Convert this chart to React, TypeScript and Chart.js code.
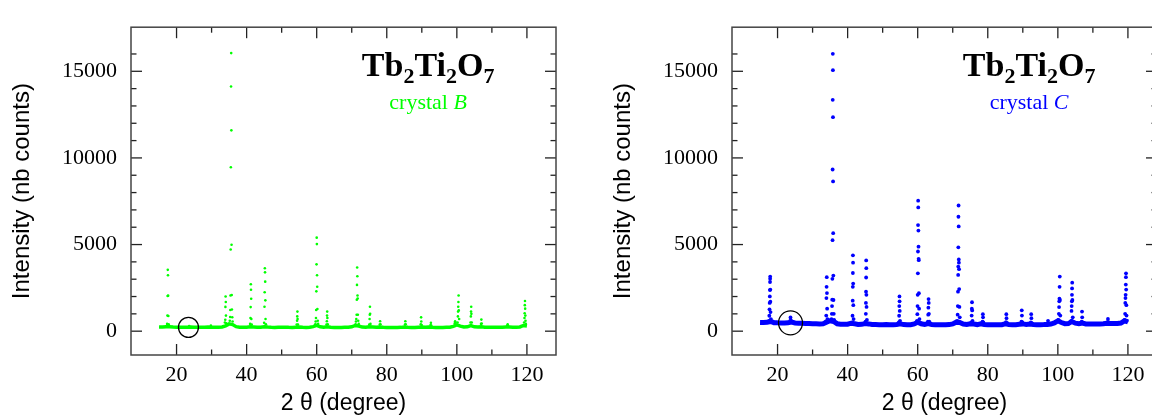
import React, { useEffect, useRef } from "react";
import { Chart, registerables } from "chart.js";

Chart.register(...registerables);

type Pt = [number, number];

const X_RANGE: [number, number] = [7, 128.3];
const Y_RANGE: [number, number] = [-1375, 17545];
const X_MAJOR = [20, 40, 60, 80, 100, 120];
const X_MINOR = [30, 50, 70, 90, 110];
const Y_MAJOR = [0, 5000, 10000, 15000];
const Y_MINOR = [1000, 2000, 3000, 4000, 6000, 7000, 8000, 9000, 11000, 12000, 13000, 14000, 16000];

const X_TITLE = "2 θ (degree)";
const Y_TITLE = "Intensity (nb counts)";
const COMPOUND: [string, boolean][] = [["Tb", false], ["2", true], ["Ti", false], ["2", true], ["O", false], ["7", true]];
const CRYSTAL_WORD = "crystal ";

// crystal B (green) — background band
const bandB: Pt[] = [
  [15, 240], [16, 235], [17, 250], [18, 260], [19, 235], [20, 230], [21, 228], [22, 230], [23, 232], [24, 235],
  [25, 230], [26, 226], [27, 225], [28, 228], [29, 235], [30, 230], [31, 225], [32, 225], [33, 240], [34, 300],
  [35, 420], [36, 380], [37, 260], [38, 230], [39, 225], [40, 228], [41, 250], [42, 240], [43, 222], [44, 225],
  [45, 260], [46, 235], [47, 220], [48, 218], [49, 220], [50, 222], [51, 230], [52, 220], [53, 218], [54, 230],
  [55, 235], [56, 220], [57, 216], [58, 222], [59, 260], [60, 330], [61, 250], [62, 225], [63, 250], [64, 225],
  [65, 215], [66, 215], [67, 218], [68, 220], [69, 225], [70, 250], [71, 330], [72, 300], [73, 235], [74, 225],
  [75, 260], [76, 240], [77, 222], [78, 240], [79, 222], [80, 215], [81, 214], [82, 215], [83, 216], [84, 220],
  [85, 245], [86, 222], [87, 215], [88, 218], [89, 230], [90, 240], [91, 220], [92, 240], [93, 222], [94, 215],
  [95, 215], [96, 218], [97, 222], [98, 230], [99, 280], [100, 360], [101, 290], [102, 240], [103, 250], [104, 320],
  [105, 250], [106, 240], [107, 260], [108, 230], [109, 222], [110, 220], [111, 222], [112, 222], [113, 225], [114, 235],
  [115, 240], [116, 230], [117, 232], [118, 245], [119, 330], [120, 300],
];

// crystal B (green) — peak points
const peaksB: Pt[] = [
  [17.3, 420], [17.4, 900], [17.45, 2030], [17.5, 3540], [17.55, 3230], [17.6, 2050], [17.65, 880], [17.75, 400],
  [23.6, 300], [29.8, 320],
  [33.8, 500], [33.9, 660], [33.95, 1400], [34.0, 2000], [34.05, 1680], [34.1, 900], [34.2, 450],
  [35.2, 600], [35.3, 820], [35.35, 1220], [35.4, 2060], [35.45, 4710], [35.5, 9460], [35.55, 14120], [35.6, 16050],
  [35.65, 11590], [35.7, 4990], [35.75, 2090], [35.8, 1250], [35.9, 800], [36.0, 560],
  [41.0, 420], [41.1, 760], [41.15, 1390], [41.2, 2710], [41.25, 2390], [41.3, 1870], [41.35, 700], [41.45, 380],
  [45.0, 480], [45.1, 1410], [45.15, 2245], [45.2, 3636], [45.25, 3395], [45.3, 2860], [45.35, 1780], [45.4, 700], [45.5, 400],
  [54.3, 380], [54.4, 600], [54.45, 853], [54.5, 1131], [54.55, 700], [54.65, 380],
  [59.6, 400], [59.7, 560], [59.8, 760], [59.85, 1224], [59.9, 2300], [59.95, 3858], [60.0, 5398], [60.05, 5027],
  [60.1, 3228], [60.15, 2560], [60.2, 1280], [60.3, 600], [60.4, 420],
  [62.8, 380], [62.9, 575], [62.95, 900], [63.0, 1131], [63.05, 760], [63.15, 400],
  [71.1, 400], [71.2, 560], [71.3, 700], [71.4, 946], [71.45, 1818], [71.5, 2671], [71.55, 3673], [71.6, 3172],
  [71.65, 2059], [71.7, 1883], [71.75, 950], [71.85, 600], [72.0, 420],
  [75.0, 380], [75.1, 700], [75.15, 946], [75.2, 1410], [75.25, 1000], [75.35, 420],
  [78.0, 380], [78.1, 575], [78.2, 400],
  [85.2, 380], [85.3, 575], [85.4, 400],
  [89.7, 400], [89.8, 798], [89.85, 560], [89.95, 350],
  [92.5, 350], [92.6, 482], [92.7, 330],
  [99.4, 450], [99.5, 575], [99.6, 500],
  [100.2, 500], [100.3, 853], [100.35, 1131], [100.4, 1410], [100.45, 1688], [100.5, 2059], [100.55, 1200], [100.65, 700],
  [103.9, 500], [104.0, 853], [104.05, 1131], [104.1, 1410], [104.15, 1000], [104.25, 500],
  [106.9, 420], [107.0, 668], [107.1, 440],
  [114.4, 330], [114.5, 390], [114.6, 320],
  [119.2, 500], [119.3, 760], [119.35, 1039], [119.4, 1503], [119.45, 1744], [119.5, 1300], [119.55, 900], [119.6, 600], [119.7, 420],
];

// crystal C (blue) — background band
const bandC: Pt[] = [
  [15, 500], [16, 495], [17, 510], [18, 560], [19, 490], [20, 480], [21, 478], [22, 475], [23, 480], [24, 520],
  [25, 470], [26, 462], [27, 455], [28, 448], [29, 440], [30, 432], [31, 425], [32, 420], [33, 430], [34, 520],
  [35, 600], [36, 560], [37, 430], [38, 405], [39, 398], [40, 400], [41, 460], [42, 430], [43, 392], [44, 395],
  [45, 440], [46, 420], [47, 385], [48, 380], [49, 378], [50, 378], [51, 385], [52, 375], [53, 372], [54, 390],
  [55, 420], [56, 380], [57, 370], [58, 375], [59, 420], [60, 520], [61, 430], [62, 390], [63, 440], [64, 390],
  [65, 368], [66, 366], [67, 368], [68, 370], [69, 380], [70, 420], [71, 520], [72, 500], [73, 410], [74, 385],
  [75, 430], [76, 410], [77, 380], [78, 420], [79, 385], [80, 368], [81, 365], [82, 365], [83, 366], [84, 372],
  [85, 420], [86, 385], [87, 370], [88, 375], [89, 400], [90, 420], [91, 385], [92, 415], [93, 385], [94, 375],
  [95, 376], [96, 380], [97, 390], [98, 410], [99, 480], [100, 600], [101, 500], [102, 430], [103, 440], [104, 560],
  [105, 460], [106, 430], [107, 470], [108, 420], [109, 410], [110, 412], [111, 415], [112, 420], [113, 425], [114, 460],
  [115, 450], [116, 440], [117, 445], [118, 470], [119, 600], [120, 540],
];

// crystal C (blue) — peak points
const peaksC: Pt[] = [
  [17.55, 600], [17.65, 890], [17.7, 1261], [17.75, 1632], [17.8, 2003], [17.82, 2375], [17.85, 2838], [17.88, 3024],
  [17.9, 3154], [17.93, 2400], [17.95, 1700], [18.0, 1100], [18.1, 700],
  [23.6, 600], [23.7, 796], [23.8, 620],
  [33.8, 560], [33.9, 900], [33.95, 1911], [34.0, 2560], [34.05, 3116], [34.1, 2200], [34.15, 1300], [34.25, 700],
  [35.4, 700], [35.5, 1000], [35.55, 1447], [35.6, 1818], [35.65, 3024], [35.7, 5250], [35.72, 9331], [35.75, 13356],
  [35.78, 16009], [35.8, 15063], [35.82, 12354], [35.85, 8644], [35.88, 5658], [35.92, 3209], [35.97, 1800], [36.05, 1000], [36.15, 650],
  [41.3, 500], [41.4, 890], [41.45, 1762], [41.48, 2560], [41.5, 3358], [41.52, 4378], [41.55, 3951], [41.58, 2745], [41.62, 1500], [41.7, 700],
  [45.1, 550], [45.2, 1000], [45.22, 1632], [45.25, 2282], [45.28, 3098], [45.3, 4081], [45.33, 3636], [45.36, 2096], [45.4, 1400], [45.5, 650],
  [54.6, 500], [54.7, 890], [54.75, 1447], [54.8, 2003], [54.83, 1725], [54.87, 1169], [54.95, 600],
  [59.8, 600], [59.9, 983], [59.95, 1447], [60.0, 2096], [60.05, 3339], [60.08, 4600], [60.1, 6122], [60.13, 7531],
  [60.16, 7142], [60.2, 5806], [60.23, 4879], [60.26, 4174], [60.3, 4100], [60.34, 2189], [60.4, 1300], [60.5, 700],
  [62.9, 550], [63.0, 950], [63.05, 1354], [63.1, 1855], [63.15, 1632], [63.2, 1000], [63.3, 550],
  [71.3, 600], [71.4, 950], [71.45, 1447], [71.5, 2282], [71.55, 3246], [71.58, 3729], [71.6, 4842], [71.63, 6604],
  [71.66, 7253], [71.7, 6047], [71.73, 4137], [71.76, 3951], [71.8, 3580], [71.84, 2430], [71.9, 1400], [72.0, 800],
  [75.3, 500], [75.4, 900], [75.45, 1300], [75.5, 1670], [75.55, 1200], [75.65, 600],
  [78.5, 550], [78.6, 983], [78.65, 800], [78.75, 500],
  [85.2, 520], [85.3, 983], [85.35, 750], [85.45, 480],
  [89.6, 550], [89.7, 1206], [89.75, 900], [89.85, 520],
  [92.3, 500], [92.4, 983], [92.45, 750], [92.55, 470],
  [97.2, 600],
  [100.2, 650], [100.3, 1000], [100.35, 1391], [100.4, 1725], [100.45, 1874], [100.5, 2560], [100.55, 3154], [100.6, 1800], [100.7, 900],
  [103.8, 600], [103.9, 1169], [103.95, 1447], [104.0, 1725], [104.03, 2096], [104.06, 2467], [104.1, 2801], [104.15, 1800], [104.25, 800],
  [106.8, 550], [106.9, 1131], [106.95, 800], [107.05, 500],
  [114.2, 520], [114.3, 705], [114.4, 520],
  [119.1, 650], [119.2, 1000], [119.25, 1632], [119.3, 1911], [119.35, 2096], [119.4, 2690], [119.43, 3116], [119.46, 3339],
  [119.5, 2400], [119.55, 1500], [119.6, 900], [119.7, 600],
];

const circleB: Pt = [23.4, 220];
const circleC: Pt = [23.7, 480];

// text anchors (data units)
const LABEL_X = 91.8;
const COMPOUND_Y = 14720;
const CRYSTAL_Y = 12810;

const SERIF = "'Liberation Serif', 'Times New Roman', serif";
const SANS = "'Liberation Sans', Arial, sans-serif";

type PanelProps = {
  left: number;
  color: string;
  band: Pt[];
  peaks: Pt[];
  circle: Pt;
  circleRadius: number;
  letter: string;
  dotRadius: number;
  bandWidth: number;
};

function Panel(props: PanelProps) {
  const ref = useRef<HTMLCanvasElement | null>(null);
  useEffect(() => {
    const { color, band, peaks, circle, circleRadius, letter, dotRadius, bandWidth } = props;
    const framePlugin = {
      id: "frameAndLabels",
      afterDraw(chart: any) {
        const ctx = chart.ctx as CanvasRenderingContext2D;
        const xs = chart.scales.x;
        const ys = chart.scales.y;
        const { left, right, top, bottom } = chart.chartArea;
        ctx.save();
        ctx.strokeStyle = "#222";
        ctx.lineWidth = 1.3;
        const tick = (x1: number, y1: number, x2: number, y2: number) => {
          ctx.beginPath();
          ctx.moveTo(x1, y1);
          ctx.lineTo(x2, y2);
          ctx.stroke();
        };
        X_MAJOR.forEach((v) => {
          const p = xs.getPixelForValue(v);
          tick(p, bottom, p, bottom - 11);
          tick(p, top, p, top + 11);
        });
        X_MINOR.forEach((v) => {
          const p = xs.getPixelForValue(v);
          tick(p, bottom, p, bottom - 5.5);
          tick(p, top, p, top + 5.5);
        });
        Y_MAJOR.forEach((v) => {
          const p = ys.getPixelForValue(v);
          tick(left, p, left + 11, p);
          tick(right, p, right - 11, p);
        });
        Y_MINOR.forEach((v) => {
          const p = ys.getPixelForValue(v);
          tick(left, p, left + 5.5, p);
          tick(right, p, right - 5.5, p);
        });
        ctx.strokeStyle = "#444";
        ctx.lineWidth = 1.5;
        ctx.strokeRect(left, top, right - left, bottom - top);

        const cx = xs.getPixelForValue(LABEL_X);
        const by = ys.getPixelForValue(COMPOUND_Y);
        const mainFont = `bold 34px ${SERIF}`;
        const subFont = `bold 22px ${SERIF}`;
        let total = 0;
        COMPOUND.forEach(([t, sub]) => {
          ctx.font = sub ? subFont : mainFont;
          total += ctx.measureText(t).width;
        });
        let x = cx - total / 2;
        ctx.fillStyle = "#000";
        ctx.textBaseline = "alphabetic";
        ctx.textAlign = "left";
        COMPOUND.forEach(([t, sub]) => {
          ctx.font = sub ? subFont : mainFont;
          ctx.fillText(t, x, sub ? by + 7 : by);
          x += ctx.measureText(t).width;
        });

        const cy = ys.getPixelForValue(CRYSTAL_Y);
        const f1 = `22px ${SERIF}`;
        const f2 = `italic 22px ${SERIF}`;
        ctx.font = f1;
        const w1 = ctx.measureText(CRYSTAL_WORD).width;
        ctx.font = f2;
        const w2 = ctx.measureText(letter).width;
        let x2 = cx - (w1 + w2) / 2;
        ctx.fillStyle = color;
        ctx.font = f1;
        ctx.fillText(CRYSTAL_WORD, x2, cy);
        x2 += w1;
        ctx.font = f2;
        ctx.fillText(letter, x2, cy);
        ctx.restore();
      },
    };

    const chart = new Chart(ref.current as HTMLCanvasElement, {
      type: "scatter",
      data: {
        datasets: [
          {
            data: band.map(([x, y]) => ({ x, y })),
            showLine: true,
            borderColor: color,
            borderWidth: bandWidth,
            pointRadius: 0,
            order: 3,
          } as any,
          {
            data: peaks.map(([x, y]) => ({ x, y })),
            backgroundColor: color,
            pointBackgroundColor: color,
            pointBorderWidth: 0,
            pointRadius: dotRadius,
            order: 2,
          },
          {
            data: [{ x: circle[0], y: circle[1] }],
            pointRadius: circleRadius,
            pointBackgroundColor: "rgba(0,0,0,0)",
            pointBorderColor: "#000",
            pointBorderWidth: 1.3,
            order: 1,
          },
        ],
      },
      options: {
        responsive: false,
        animation: false,
        devicePixelRatio: 1,
        layout: { padding: { top: 15, right: 20, left: 0, bottom: 0 } },
        plugins: { legend: { display: false }, tooltip: { enabled: false } },
        scales: {
          x: {
            type: "linear",
            min: X_RANGE[0],
            max: X_RANGE[1],
            afterBuildTicks: (s: any) => {
              s.ticks = X_MAJOR.map((v) => ({ value: v }));
            },
            afterFit: (s: any) => {
              s.height = 63;
            },
            grid: { display: false, drawTicks: false },
            border: { display: false },
            ticks: {
              font: { family: SERIF, size: 22 },
              color: "#000",
              padding: 7,
              maxRotation: 0,
              autoSkip: false,
              callback: (v: any) => String(v),
            },
            title: {
              display: true,
              text: X_TITLE,
              font: { family: SANS, size: 23 },
              color: "#000",
              padding: { top: 0, bottom: 1 },
            },
          },
          y: {
            type: "linear",
            min: Y_RANGE[0],
            max: Y_RANGE[1],
            afterBuildTicks: (s: any) => {
              s.ticks = Y_MAJOR.map((v) => ({ value: v }));
            },
            afterFit: (s: any) => {
              s.width = 131;
            },
            grid: { display: false, drawTicks: false },
            border: { display: false },
            ticks: {
              font: { family: SERIF, size: 22 },
              color: "#000",
              padding: 14,
              autoSkip: false,
              callback: (v: any) => String(v),
            },
            title: {
              display: true,
              text: Y_TITLE,
              font: { family: SANS, size: 24 },
              color: "#000",
              padding: { top: 8, bottom: 0 },
            },
          },
        },
      },
      plugins: [framePlugin],
    });
    return () => chart.destroy();
  }, []);
  return (
    <canvas
      ref={ref}
      width={576}
      height={418}
      style={{ position: "absolute", left: props.left, top: 0, width: 576, height: 418 }}
    />
  );
}

export default function App() {
  return (
    <div
      style={{
        position: "fixed",
        left: 0,
        top: 0,
        width: 1152,
        height: 418,
        overflow: "hidden",
        background: "#fff",
      }}
    >
      <Panel
        left={0}
        color="#00ff00"
        band={bandB}
        peaks={peaksB}
        circle={circleB}
        circleRadius={10}
        letter="B"
        dotRadius={1.3}
        bandWidth={3.5}
      />
      <Panel
        left={601}
        color="#0000ff"
        band={bandC}
        peaks={peaksC}
        circle={circleC}
        circleRadius={12}
        letter="C"
        dotRadius={1.9}
        bandWidth={5}
      />
    </div>
  );
}
